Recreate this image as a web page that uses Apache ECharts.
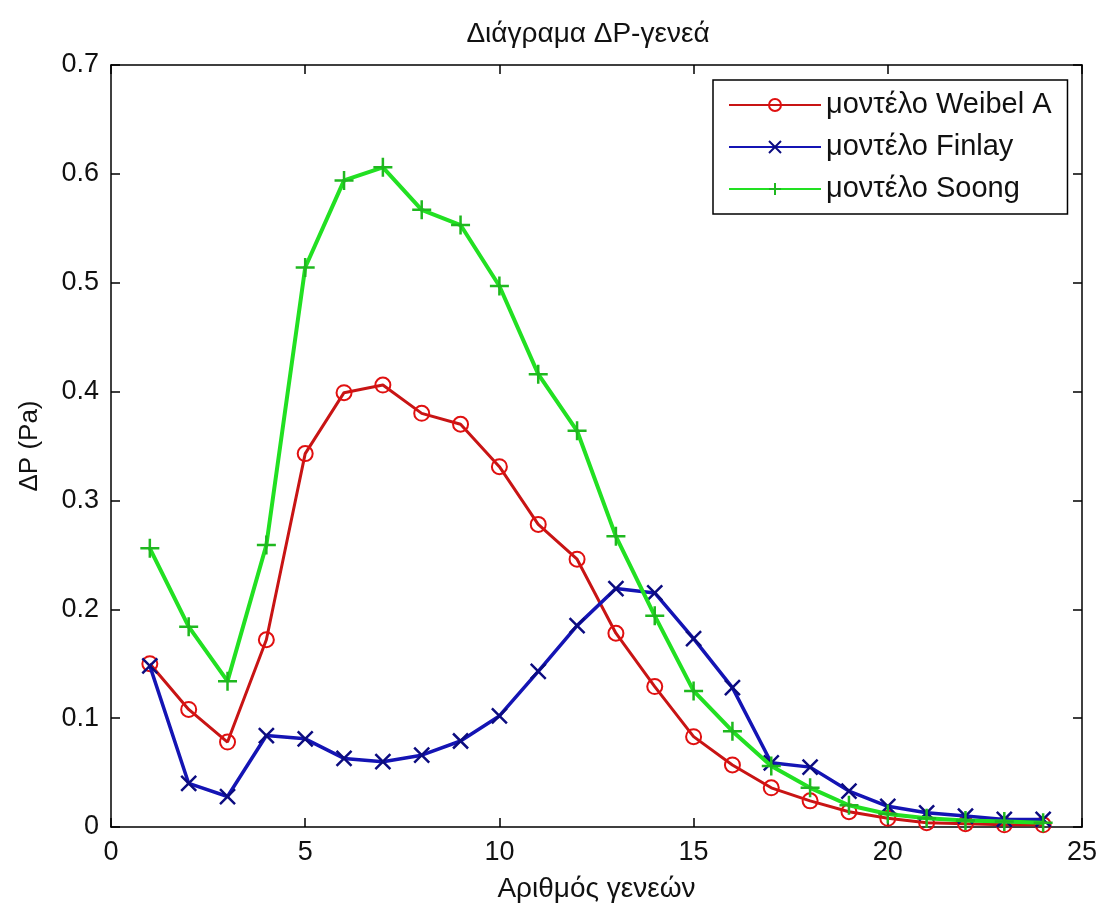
<!DOCTYPE html>
<html><head><meta charset="utf-8">
<script src="https://cdn.jsdelivr.net/npm/echarts@6/dist/echarts.min.js"></script>
<style>html,body{margin:0;padding:0;background:#fff}#c{width:1100px;height:908px}</style>
</head><body><div id="c"></div>
<script>
const generations = [1,2,3,4,5,6,7,8,9,10,11,12,13,14,15,16,17,18,19,20,21,22,23,24];
const weibelA = [0.150,0.108,0.078,0.172,0.343,0.399,0.406,0.380,0.370,0.331,0.278,0.246,0.178,0.129,0.083,0.057,0.036,0.024,0.014,0.008,0.004,0.003,0.002,0.002];
const finlay  = [0.148,0.040,0.028,0.084,0.081,0.063,0.060,0.066,0.079,0.102,0.143,0.185,0.219,0.215,0.173,0.128,0.059,0.055,0.033,0.019,0.013,0.010,0.007,0.007];
const soong   = [0.256,0.184,0.134,0.259,0.514,0.594,0.606,0.567,0.553,0.497,0.416,0.364,0.267,0.194,0.125,0.088,0.056,0.036,0.020,0.012,0.008,0.006,0.005,0.004];
const seriesNames = ['μοντέλο Weibel A','μοντέλο Finlay','μοντέλο Soong'];
const xTicks = [0,5,10,15,20,25];
const yTicks = [0,0.1,0.2,0.3,0.4,0.5,0.6,0.7];

const pair = arr => generations.map((g,i)=>[g,arr[i]]);
const FONT = '"Liberation Sans", Arial, sans-serif';
const chart = echarts.init(document.getElementById('c'));
const axisCommon = {
  axisLine:{show:true,onZero:false,lineStyle:{color:'#000',width:1.5}},
  axisTick:{show:true,inside:true,length:9,lineStyle:{color:'#000',width:1.5}},
  splitLine:{show:false}
};
chart.setOption({
  backgroundColor:'#fff',
  animation:false,
  title:{text:'Διάγραμα ΔP-γενεά',left:583,top:15,textAlign:'center',
    textStyle:{fontFamily:FONT,fontSize:28,fontWeight:'normal',color:'#111'}},
  grid:{left:111,right:17,top:65,bottom:78,containLabel:false},
  legend:{
    orient:'vertical',left:713,top:80,
    padding:[10,16,10,15],itemGap:12,itemWidth:92,itemHeight:15,
    borderColor:'#000',borderWidth:1.5,backgroundColor:'#fff',
    textStyle:{fontFamily:FONT,fontSize:29,lineHeight:30,color:'#111'},
    data:seriesNames
  },
  xAxis:[
    Object.assign({type:'value',min:xTicks[0],max:xTicks[xTicks.length-1],interval:5,position:'bottom',
      name:'Αριθμός γενεών',nameLocation:'middle',nameGap:48,
      nameTextStyle:{fontFamily:FONT,fontSize:28,color:'#111'},
      axisLabel:{fontFamily:FONT,fontSize:27,color:'#111',margin:12}},axisCommon),
    Object.assign({type:'value',min:0,max:25,interval:5,position:'top',axisLabel:{show:false}},axisCommon)
  ],
  yAxis:[
    Object.assign({type:'value',min:yTicks[0],max:yTicks[yTicks.length-1],interval:0.1,position:'left',
      name:'ΔP (Pa)',nameLocation:'middle',nameGap:68,nameRotate:90,
      nameTextStyle:{fontFamily:FONT,fontSize:26,color:'#111'},
      axisLabel:{fontFamily:FONT,fontSize:27,color:'#111',margin:12,formatter:v=>String(+v.toFixed(1))}},axisCommon),
    Object.assign({type:'value',min:0,max:0.7,interval:0.1,position:'right',axisLabel:{show:false}},axisCommon)
  ],
  series:[
    {name:seriesNames[0],type:'line',data:pair(weibelA),xAxisIndex:0,yAxisIndex:0,
      lineStyle:{color:'#c81414',width:3},symbol:'circle',symbolSize:15,
      itemStyle:{color:'rgba(255,255,255,0)',borderColor:'#e01010',borderWidth:2},z:2},
    {name:seriesNames[1],type:'line',data:pair(finlay),
      lineStyle:{color:'#1414b4',width:3.5},symbol:'path://M0,0L10,10M10,0L0,10',symbolSize:15,
      itemStyle:{color:'rgba(255,255,255,0)',borderColor:'#0c0c80',borderWidth:2.5},z:3},
    {name:seriesNames[2],type:'line',data:pair(soong),
      lineStyle:{color:'#22e022',width:4},symbol:'path://M5,0L5,10M0,5L10,5',symbolSize:19,
      itemStyle:{color:'rgba(255,255,255,0)',borderColor:'#1fb81f',borderWidth:2.5},z:4}
  ]
});
</script></body></html>
